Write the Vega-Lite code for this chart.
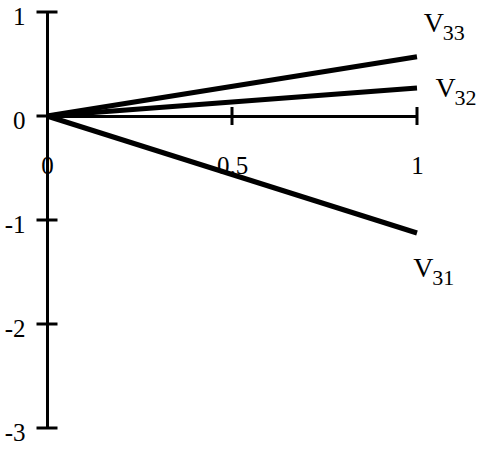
{
  "$schema": "https://vega.github.io/schema/vega-lite/v6.json",
  "width": 370,
  "height": 416,
  "autosize": "none",
  "padding": {"left": 47, "right": 66, "top": 12, "bottom": 25},
  "background": "white",
  "config": {
    "view": {"stroke": null},
    "font": "Liberation Serif",
    "axis": {"grid": false, "ticks": false, "domainColor": "black", "domainWidth": 3, "labelColor": "black", "labelFont": "Liberation Serif", "labelFontSize": 25, "title": null}
  },
  "datasets": {
    "lines": [
      {"series": "V33", "x": 0, "y": 0}, {"series": "V33", "x": 1, "y": 0.57},
      {"series": "V32", "x": 0, "y": 0}, {"series": "V32", "x": 1, "y": 0.27},
      {"series": "V31", "x": 0, "y": 0}, {"series": "V31", "x": 1, "y": -1.125}
    ],
    "yticks": [{"x": 0, "y": -3}, {"x": 0, "y": -2}, {"x": 0, "y": -1}, {"x": 0, "y": 0}, {"x": 0, "y": 1}],
    "xticks": [{"x": 0.5, "y": 0}, {"x": 1, "y": 0}],
    "labels": [
      {"main": "V", "sub": "33", "x": 1.018, "y": 0.808},
      {"main": "V", "sub": "32", "x": 1.05, "y": 0.183},
      {"main": "V", "sub": "31", "x": 0.99, "y": -1.548}
    ]
  },
  "layer": [
    {
      "data": {"name": "lines"},
      "mark": {"type": "line", "color": "black", "strokeWidth": 5, "clip": false},
      "encoding": {
        "x": {"field": "x", "type": "quantitative", "scale": {"domain": [0, 1], "nice": false, "zero": false},
              "axis": {"values": [0, 0.5, 1], "offset": -312, "labelPadding": 37, "labelFlush": false, "format": "~g", "labelBaseline": "top"}},
        "y": {"field": "y", "type": "quantitative", "scale": {"domain": [-3, 1], "nice": false},
              "axis": {"values": [-3, -2, -1, 0, 1], "labelPadding": 22, "labelOffset": 4, "labelFlush": false, "labelExpr": "datum.value < 0 ? '-' + abs(datum.value) : '' + datum.value"}},
        "detail": {"field": "series"}
      }
    },
    {
      "data": {"name": "yticks"},
      "mark": {"type": "tick", "orient": "horizontal", "color": "black", "size": 21, "thickness": 3, "opacity": 1},
      "encoding": {
        "x": {"field": "x", "type": "quantitative"},
        "y": {"field": "y", "type": "quantitative"}
      }
    },
    {
      "data": {"name": "xticks"},
      "mark": {"type": "tick", "orient": "vertical", "color": "black", "size": 18, "thickness": 3, "opacity": 1},
      "encoding": {
        "x": {"field": "x", "type": "quantitative"},
        "y": {"field": "y", "type": "quantitative"}
      }
    },
    {
      "data": {"name": "labels"},
      "mark": {"type": "text", "align": "left", "baseline": "alphabetic", "fontSize": 28, "color": "black", "font": "Liberation Serif"},
      "encoding": {
        "x": {"field": "x", "type": "quantitative"},
        "y": {"field": "y", "type": "quantitative"},
        "text": {"field": "main"}
      }
    },
    {
      "data": {"name": "labels"},
      "mark": {"type": "text", "align": "left", "baseline": "alphabetic", "fontSize": 22, "color": "black", "font": "Liberation Serif", "dx": 19, "dy": 8},
      "encoding": {
        "x": {"field": "x", "type": "quantitative"},
        "y": {"field": "y", "type": "quantitative"},
        "text": {"field": "sub"}
      }
    }
  ]
}
